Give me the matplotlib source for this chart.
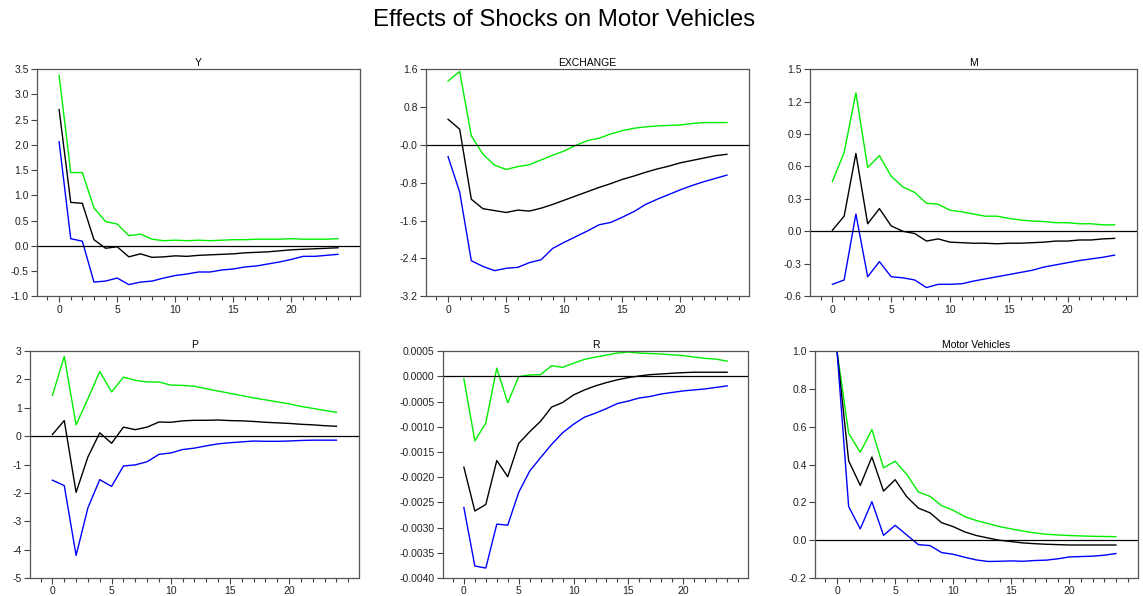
import matplotlib
matplotlib.use('Agg')
import matplotlib.pyplot as plt
import numpy as np
from matplotlib.ticker import FixedLocator, MultipleLocator

plt.rcParams['font.family'] = ['Liberation Sans', 'DejaVu Sans']

steps = np.arange(25)

# Y
y_mid = [2.70, 0.86, 0.84, 0.12, -0.05, -0.02, -0.22, -0.16, -0.23, -0.22, -0.20, -0.21, -0.19,
         -0.18, -0.17, -0.16, -0.14, -0.13, -0.12, -0.10, -0.08, -0.07, -0.06, -0.05, -0.04]
y_up = [3.38, 1.45, 1.45, 0.75, 0.48, 0.43, 0.20, 0.23, 0.13, 0.10, 0.11, 0.10, 0.11,
        0.10, 0.11, 0.12, 0.12, 0.13, 0.13, 0.13, 0.14, 0.13, 0.13, 0.13, 0.14]
y_lo = [2.06, 0.14, 0.09, -0.72, -0.70, -0.64, -0.77, -0.72, -0.70, -0.64, -0.59, -0.56, -0.52,
        -0.52, -0.48, -0.46, -0.42, -0.40, -0.36, -0.32, -0.27, -0.21, -0.21, -0.19, -0.17]

# EXCHANGE
ex_mid = [0.54, 0.33, -1.15, -1.35, -1.39, -1.43, -1.38, -1.40, -1.34, -1.26, -1.17, -1.08, -0.99,
          -0.90, -0.82, -0.73, -0.66, -0.58, -0.51, -0.45, -0.38, -0.33, -0.28, -0.23, -0.20]
ex_up = [1.35, 1.55, 0.19, -0.20, -0.43, -0.52, -0.46, -0.42, -0.32, -0.22, -0.13, -0.01, 0.09,
         0.14, 0.23, 0.30, 0.35, 0.38, 0.40, 0.41, 0.42, 0.45, 0.47, 0.47, 0.47]
ex_lo = [-0.25, -1.00, -2.45, -2.57, -2.66, -2.61, -2.59, -2.49, -2.43, -2.19, -2.06, -1.94, -1.82,
         -1.69, -1.64, -1.53, -1.41, -1.26, -1.15, -1.05, -0.95, -0.86, -0.78, -0.71, -0.64]

# M
m_mid = [0.01, 0.14, 0.72, 0.07, 0.21, 0.05, 0.00, -0.02, -0.09, -0.07, -0.10, -0.105, -0.11,
         -0.11, -0.115, -0.11, -0.11, -0.105, -0.10, -0.09, -0.09, -0.08, -0.08, -0.07, -0.065]
m_up = [0.46, 0.73, 1.28, 0.59, 0.70, 0.51, 0.41, 0.36, 0.26, 0.25, 0.195, 0.18, 0.16,
        0.14, 0.14, 0.12, 0.105, 0.095, 0.09, 0.08, 0.08, 0.07, 0.07, 0.06, 0.06]
m_lo = [-0.49, -0.45, 0.16, -0.42, -0.28, -0.42, -0.43, -0.45, -0.52, -0.49, -0.49, -0.485, -0.46,
        -0.44, -0.42, -0.40, -0.38, -0.36, -0.33, -0.31, -0.29, -0.27, -0.255, -0.24, -0.22]

# P
p_mid = [0.06, 0.55, -1.98, -0.73, 0.12, -0.25, 0.32, 0.23, 0.32, 0.50, 0.49, 0.54, 0.56,
         0.56, 0.57, 0.55, 0.54, 0.52, 0.49, 0.47, 0.45, 0.42, 0.40, 0.37, 0.35]
p_up = [1.44, 2.81, 0.40, 1.32, 2.28, 1.56, 2.08, 1.97, 1.91, 1.91, 1.80, 1.79, 1.76,
        1.67, 1.59, 1.51, 1.43, 1.35, 1.28, 1.21, 1.14, 1.05, 0.98, 0.91, 0.84]
p_lo = [-1.55, -1.74, -4.20, -2.52, -1.53, -1.77, -1.05, -1.01, -0.90, -0.64, -0.59, -0.47, -0.42,
        -0.34, -0.27, -0.23, -0.20, -0.17, -0.18, -0.18, -0.17, -0.15, -0.14, -0.14, -0.14]

# R (units of 1e-4)
r_mid = [-18.0, -26.7, -25.4, -16.7, -19.9, -13.3, -11.0, -8.9, -6.1, -5.2, -3.7, -2.7, -1.9,
         -1.25, -0.7, -0.26, 0.07, 0.33, 0.46, 0.6, 0.72, 0.8, 0.8, 0.8, 0.8]
r_up = [-0.5, -12.8, -9.25, 1.6, -5.25, -0.07, 0.26, 0.33, 2.1, 1.77, 2.6, 3.35, 3.8,
        4.2, 4.6, 4.8, 4.6, 4.5, 4.4, 4.25, 4.1, 3.8, 3.55, 3.4, 3.0]
r_lo = [-26.0, -37.6, -38.0, -29.3, -29.5, -23.0, -18.8, -16.1, -13.5, -11.2, -9.5, -8.1, -7.3,
        -6.4, -5.4, -4.9, -4.3, -4.0, -3.5, -3.2, -2.9, -2.7, -2.5, -2.2, -1.9]

# Motor Vehicles
mv_mid = [1.0, 0.42, 0.29, 0.44, 0.26, 0.32, 0.23, 0.17, 0.145, 0.093, 0.072, 0.044, 0.025,
          0.012, 0.0, -0.007, -0.014, -0.018, -0.021, -0.023, -0.025, -0.025, -0.025, -0.025, -0.025]
mv_up = [1.0, 0.565, 0.465, 0.585, 0.383, 0.418, 0.348, 0.255, 0.232, 0.183, 0.158, 0.125, 0.104,
         0.088, 0.072, 0.06, 0.049, 0.039, 0.032, 0.028, 0.025, 0.023, 0.021, 0.02, 0.019]
mv_lo = [1.0, 0.178, 0.06, 0.204, 0.026, 0.079, 0.028, -0.023, -0.028, -0.065, -0.074, -0.09, -0.104,
         -0.112, -0.111, -0.109, -0.111, -0.107, -0.105, -0.098, -0.088, -0.086, -0.084, -0.079, -0.070]

panels = [
    ('Y', y_mid, y_up, y_lo, np.arange(-1.0, 3.51, 0.5), '{:.1f}', 1.0),
    ('EXCHANGE', ex_mid, ex_up, ex_lo, np.arange(-3.2, 1.61, 0.8), '{:.1f}', 1.0),
    ('M', m_mid, m_up, m_lo, np.arange(-0.6, 1.51, 0.3), '{:.1f}', 1.0),
    ('P', p_mid, p_up, p_lo, np.arange(-5, 3.1, 1), '{:.0f}', 1.0),
    ('R', r_mid, r_up, r_lo, np.arange(-0.0040, 0.00051, 0.0005), '{:.4f}', 1e-4),
    ('Motor Vehicles', mv_mid, mv_up, mv_lo, np.arange(-0.2, 1.01, 0.2), '{:.1f}', 1.0),
]

# axes boxes in figure fractions [left, bottom, width, height]
boxes = [
    [0.0324, 0.503, 0.2826, 0.381],
    [0.3727, 0.503, 0.2826, 0.381],
    [0.7087, 0.503, 0.2860, 0.381],
    [0.0262, 0.030, 0.2878, 0.381],
    [0.3876, 0.030, 0.2668, 0.381],
    [0.7130, 0.030, 0.2826, 0.381],
]

fig = plt.figure(figsize=(11.43, 5.96), dpi=100)
fig.text(0.4939, 0.966, 'Effects of Shocks on Motor Vehicles', fontsize=17.3,
         ha='center', va='center')

for (name, mid, up, lo, yt, fmt, scale), box in zip(panels, boxes):
    ax = fig.add_axes(box)
    ax.plot(steps, np.array(up) * scale, color='#00ee00', lw=1.0)
    ax.plot(steps, np.array(mid) * scale, color='black', lw=1.0)
    ax.plot(steps, np.array(lo) * scale, color='#0000ff', lw=1.0)
    ax.axhline(0, color='black', lw=0.9)
    ax.set_xlim(-1.9, 25.9)
    ax.set_ylim(yt[0], yt[-1])
    ax.set_yticks(yt)
    labels = []
    for v in yt:
        s = fmt.format(v)
        if name == 'EXCHANGE' and abs(v) < 1e-9:
            s = '-0.0'
        elif abs(v) < 1e-9:
            s = fmt.format(0.0)
        labels.append(s)
    ax.set_yticklabels(labels)
    ax.xaxis.set_major_locator(FixedLocator([0, 5, 10, 15, 20]))
    ax.xaxis.set_minor_locator(MultipleLocator(1))
    ax.tick_params(axis='both', which='major', labelsize=7.5, length=4, width=0.8,
                   color='#444444', labelcolor='#222222', pad=2)
    ax.tick_params(axis='x', which='minor', length=3, width=0.8, color='#444444')
    for sp in ax.spines.values():
        sp.set_color('#555555')
        sp.set_linewidth(0.9)
    ax.set_title(name, fontsize=7.5, pad=2)

plt.savefig('out.png', dpi=100)
